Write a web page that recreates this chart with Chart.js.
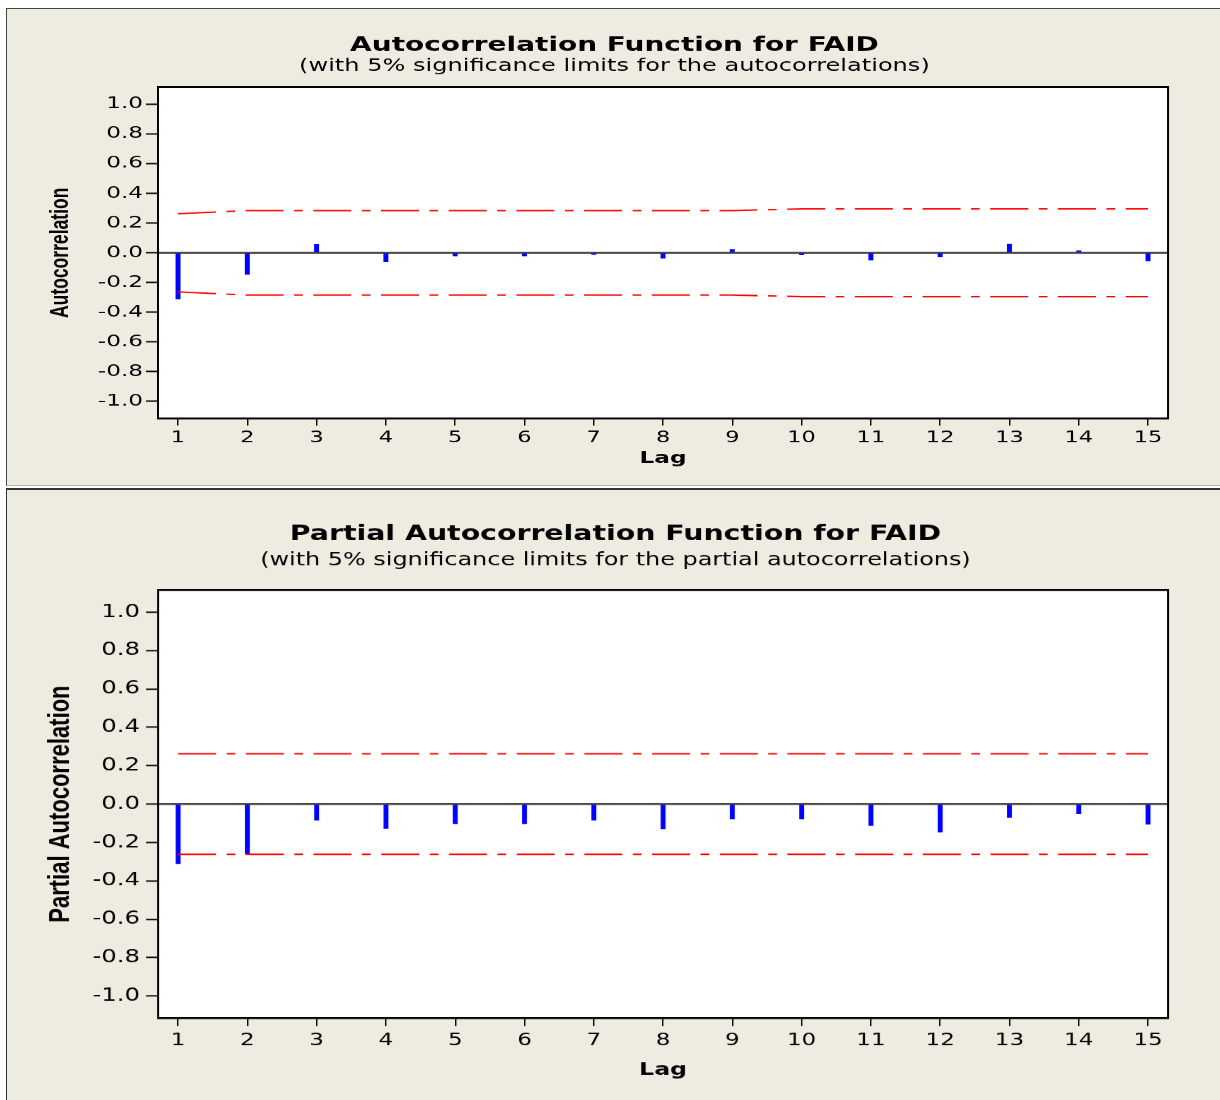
<!DOCTYPE html>
<html>
<head>
<meta charset="utf-8">
<script src="https://cdn.jsdelivr.net/npm/chart.js@4.4.1/dist/chart.umd.min.js"></script>
<style>
  body { margin: 0; background: #fff; width: 1220px; height: 1100px; overflow: hidden; position: relative; }
  .panel { position: absolute; left: 6px; width: 1230px; background: #eeebe1; box-sizing: border-box; }
  #p1 { top: 8px; height: 478px; border-left: 1px solid #444; border-top: 1px solid #444; border-bottom: 1px solid #b5b5b5; }
  #p2 { top: 488px; height: 630px; border-left: 1px solid #333; border-top: 2px solid #333; }
  .box { position: absolute; left: 6px; transform-origin: 0 0; }
  #b1 { top: 8px; width: 837px; height: 477px; transform: scaleX(1.4504); }
  #b2 { top: 489px; width: 899px; height: 611px; transform: scaleX(1.3504); }
</style>
</head>
<body>
<div class="panel" id="p1"></div>
<div class="panel" id="p2"></div>
<div class="box" id="b1"><canvas id="acfChart"></canvas></div>
<div class="box" id="b2"><canvas id="pacfChart"></canvas></div>
<script>
const lags = [1, 2, 3, 4, 5, 6, 7, 8, 9, 10, 11, 12, 13, 14, 15];
const acfValues = [-0.311, -0.145, 0.056, -0.060, -0.020, -0.020, -0.011, -0.036, 0.023, -0.013, -0.048, -0.027, 0.057, 0.013, -0.054];
const acfLimits = [0.263, 0.284, 0.284, 0.284, 0.284, 0.284, 0.284, 0.284, 0.284, 0.295, 0.295, 0.295, 0.295, 0.295, 0.295];
const pacfValues = [-0.310, -0.260, -0.084, -0.127, -0.102, -0.102, -0.084, -0.129, -0.078, -0.078, -0.112, -0.145, -0.069, -0.051, -0.105];
const pacfLimits = [0.262, 0.262, 0.262, 0.262, 0.262, 0.262, 0.262, 0.262, 0.262, 0.262, 0.262, 0.262, 0.262, 0.262, 0.262];
const yTickValues = [1.0, 0.8, 0.6, 0.4, 0.2, 0.0, -0.2, -0.4, -0.6, -0.8, -1.0];
const yRange = [-1.115, 1.115];
const xRange = [0.711, 15.289];

// white plot area + black frame (the page is stretched sideways by kx, like the original)
const plotFrame = {
  id: 'plotFrame',
  beforeDraw(chart, args, opts) {
    const { ctx, chartArea: a } = chart;
    ctx.save();
    ctx.fillStyle = '#ffffff';
    ctx.fillRect(a.left, a.top, a.width, a.height);
    ctx.restore();
  },
  afterDraw(chart, args, opts) {
    const { ctx, chartArea: a } = chart;
    ctx.save();
    ctx.strokeStyle = '#000';
    ctx.lineWidth = 2;
    ctx.beginPath();
    ctx.moveTo(a.left, a.top); ctx.lineTo(a.right, a.top);
    ctx.moveTo(a.left, a.bottom); ctx.lineTo(a.right, a.bottom);
    ctx.stroke();
    ctx.lineWidth = 2 / opts.kx;
    ctx.beginPath();
    ctx.moveTo(a.left, a.top - 1); ctx.lineTo(a.left, a.bottom + 1);
    ctx.moveTo(a.right, a.top - 1); ctx.lineTo(a.right, a.bottom + 1);
    ctx.stroke();
    ctx.restore();
  }
};

function buildChart(id, o) {
  const kx = o.kx;
  const dash = [38 / kx, 10.5 / kx, 8.7 / kx, 10.5 / kx];
  const limitLine = sign => ({
    type: 'line',
    data: lags.map((x, i) => ({ x: x, y: sign * o.limits[i] })),
    borderColor: '#ff0000',
    borderWidth: 1.4,
    borderDash: dash,
    pointRadius: 0,
    fill: false,
    tension: 0,
    order: 1
  });
  return new Chart(document.getElementById(id), {
    type: 'bar',
    data: {
      datasets: [
        limitLine(1),
        limitLine(-1),
        {
          type: 'bar',
          data: lags.map((x, i) => ({ x: x, y: o.values[i] })),
          backgroundColor: '#0000ff',
          barThickness: 4 / kx,
          order: 2
        }
      ]
    },
    options: {
      responsive: true,
      maintainAspectRatio: false,
      devicePixelRatio: kx,
      animation: false,
      layout: { padding: { left: o.padLeft, right: o.padRight, top: 0, bottom: 0 } },
      plugins: {
        legend: { display: false },
        tooltip: { enabled: false },
        plotFrame: { kx: kx },
        title: {
          display: true, text: o.title, color: '#000',
          font: { family: 'DejaVu Sans', size: o.titleSize, weight: 'bold' },
          padding: o.titlePad
        },
        subtitle: {
          display: true, text: o.subtitle, color: '#000',
          font: { family: 'DejaVu Sans', size: o.subSize },
          padding: o.subPad
        }
      },
      scales: {
        x: {
          type: 'linear',
          min: xRange[0],
          max: xRange[1],
          offset: false,
          afterBuildTicks: s => { s.ticks = lags.map(v => ({ value: v })); },
          afterFit: s => { s.height = o.xHeight; },
          border: { display: false },
          grid: { offset: false, drawOnChartArea: false, drawTicks: true, tickLength: o.xTickLen, tickColor: '#000', tickWidth: 1.4 / kx },
          ticks: {
            color: '#000', autoSkip: false, maxRotation: 0, padding: o.xTickPad,
            font: { family: 'DejaVu Sans', size: o.xTickSize },
            callback: v => String(v)
          },
          title: {
            display: true, text: 'Lag', color: '#000',
            font: { family: 'DejaVu Sans', size: o.lagSize, weight: 'bold' },
            padding: { top: 0, bottom: o.lagPad }
          }
        },
        y: {
          type: 'linear',
          min: yRange[0],
          max: yRange[1],
          afterBuildTicks: s => { s.ticks = yTickValues.map(v => ({ value: v })); },
          afterFit: s => { s.width = o.yWidth; },
          border: { display: false },
          grid: {
            drawOnChartArea: true, drawTicks: true, tickLength: o.yTickLen,
            color: c => (c.tick && Math.abs(c.tick.value) < 1e-9) ? '#4a4a4a' : 'rgba(0,0,0,0)',
            lineWidth: 2, tickColor: '#000', tickWidth: 1.4
          },
          ticks: {
            color: '#000', padding: o.yTickPad,
            font: { family: 'DejaVu Sans', size: o.yTickSize },
            callback: v => v.toFixed(1)
          },
          title: {
            display: true, text: o.yTitle, color: '#000',
            font: { family: 'Liberation Sans', size: o.yTitleSize, weight: 'bold' },
            padding: { top: o.yTitlePad, bottom: 0 }
          }
        }
      }
    },
    plugins: [plotFrame]
  });
}

buildChart('acfChart', {
  kx: 1.4504, values: acfValues, limits: acfLimits,
  title: 'Autocorrelation Function for FAID',
  subtitle: '(with 5% significance limits for the autocorrelations)',
  titleSize: 19.3, titlePad: { top: 26, bottom: 0 },
  subSize: 16.6, subPad: { top: -1, bottom: 10.9 },
  padLeft: 37.8, padRight: 35.8,
  yWidth: 67, yTickLen: 8.3, yTickPad: 2, yTickSize: 16,
  yTitle: 'Autocorrelation', yTitleSize: 17.5, yTitlePad: -10.3,
  xHeight: 67, xTickLen: 7, xTickPad: 3.5, xTickSize: 15.5,
  lagSize: 16, lagPad: 17.4
});

buildChart('pacfChart', {
  kx: 1.3504, values: pacfValues, limits: pacfLimits,
  title: 'Partial Autocorrelation Function for FAID',
  subtitle: '(with 5% significance limits for the partial autocorrelations)',
  titleSize: 21, titlePad: { top: 33.4, bottom: 0 },
  subSize: 17.7, subPad: { top: 2.4, bottom: 18.8 },
  padLeft: 42.1, padRight: 38.5,
  yWidth: 70.5, yTickLen: 8.9, yTickPad: 4.5, yTickSize: 18,
  yTitle: 'Partial Autocorrelation', yTitleSize: 22, yTitlePad: -14.6,
  xHeight: 82, xTickLen: 8, xTickPad: 4.8, xTickSize: 17,
  lagSize: 17.5, lagPad: 19.5
});
</script>
</body>
</html>
